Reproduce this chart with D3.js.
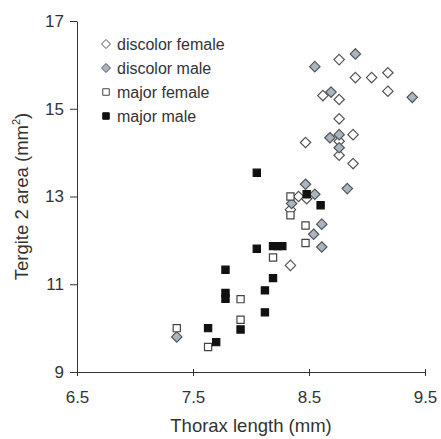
<!DOCTYPE html>
<html>
<head>
<meta charset="UTF-8">
<script src="https://cdn.jsdelivr.net/npm/d3@7"></script>
<style>
  body { margin: 0; background: #fff; }
  text { font-family: "Liberation Sans", Arial, sans-serif; fill: #333; }
</style>
</head>
<body>
<script>
// thorax length (mm) / tergite 2 area (mm2)
var discolorFemaleX = [8.76, 8.90, 9.04, 9.18, 9.18, 8.62, 8.76, 8.76, 8.47, 8.88, 8.76, 8.76, 8.88, 8.41, 8.48, 8.34, 8.34];
var discolorFemaleY = [16.12, 15.71, 15.71, 15.82, 15.40, 15.30, 15.21, 14.77, 14.23, 14.41, 14.26, 13.94, 13.75, 13.00, 12.95, 12.70, 11.43];

var discolorMaleX = [8.90, 8.55, 8.69, 9.39, 8.68, 8.76, 8.76, 8.47, 8.55, 8.83, 8.35, 8.61, 8.54, 8.61, 7.36];
var discolorMaleY = [16.25, 15.96, 15.38, 15.26, 14.34, 14.41, 14.11, 13.28, 13.05, 13.18, 12.84, 12.37, 12.14, 11.85, 9.80];

var majorFemaleX = [8.34, 8.34, 8.47, 8.47, 8.19, 7.91, 7.91, 7.36, 7.63];
var majorFemaleY = [13.00, 12.57, 12.34, 11.94, 11.61, 10.66, 10.19, 10.00, 9.57];

var majorMaleX = [8.05, 8.48, 8.60, 8.05, 8.19, 8.23, 8.27, 7.78, 8.19, 7.78, 7.78, 8.12, 8.12, 7.91, 7.63, 7.70];
var majorMaleY = [13.54, 13.05, 12.80, 11.81, 11.87, 11.87, 11.87, 11.33, 11.14, 10.80, 10.67, 10.86, 10.36, 9.97, 10.00, 9.68];

var xTicks = [6.5, 7.5, 8.5, 9.5];
var yTicks = [9, 11, 13, 15, 17];
var seriesNames = ["discolor female", "discolor male", "major female", "major male"];

var width = 441, height = 439;
var margin = {left: 77, right: 16, top: 21, bottom: 67};

var svg = d3.select("body").append("svg")
  .attr("width", width)
  .attr("height", height);

var x = d3.scaleLinear().domain([6.5, 9.5]).range([margin.left, width - margin.right]);
var y = d3.scaleLinear().domain([9, 17]).range([height - margin.bottom, margin.top]);

// axes
var xAxis = svg.append("g")
  .attr("transform", "translate(0," + y(9) + ")")
  .call(d3.axisBottom(x).tickValues(xTicks).tickFormat(d3.format(".1f")).tickSize(4).tickSizeOuter(0).tickPadding(15));
xAxis.selectAll("line").attr("y1", -3);

var yAxis = svg.append("g")
  .attr("transform", "translate(" + x(6.5) + ",0)")
  .call(d3.axisLeft(y).tickValues(yTicks).tickSize(7).tickSizeOuter(0).tickPadding(6));

svg.selectAll(".domain, .tick line").attr("stroke", "#333");
svg.selectAll(".tick text").attr("font-size", 17).style("fill", "#333");

// axis titles
svg.append("text")
  .attr("x", (x(6.5) + x(9.5)) / 2)
  .attr("y", 432)
  .attr("text-anchor", "middle")
  .attr("font-size", 18.5)
  .text("Thorax length (mm)");

var yt = svg.append("text")
  .attr("transform", "translate(28," + ((y(9) + y(17)) / 2) + ") rotate(-90)")
  .attr("text-anchor", "middle")
  .attr("font-size", 18.5);
yt.append("tspan").text("Tergite 2 area (mm");
yt.append("tspan").attr("font-size", 11).attr("dy", -8).text("2");
yt.append("tspan").attr("dy", 8).text(")");

function diamond(r) {
  return "M0," + (-r) + "L" + r + ",0L0," + r + "L" + (-r) + ",0Z";
}
function square(s) {
  return "M" + (-s / 2) + "," + (-s / 2) + "h" + s + "v" + s + "h" + (-s) + "Z";
}

var styles = [
  {shape: diamond(5.2), fill: "#fff", stroke: "#555"},
  {shape: diamond(5.2), fill: "#aab4c3", stroke: "#555"},
  {shape: square(7.2), fill: "#fff", stroke: "#444"},
  {shape: square(7.2), fill: "#111", stroke: "#111"}
];

var series = [
  d3.zip(discolorFemaleX, discolorFemaleY),
  d3.zip(discolorMaleX, discolorMaleY),
  d3.zip(majorFemaleX, majorFemaleY),
  d3.zip(majorMaleX, majorMaleY)
];

series.forEach(function (pts, i) {
  svg.append("g").selectAll("path")
    .data(pts)
    .enter()
    .append("path")
    .attr("d", styles[i].shape)
    .attr("transform", function (d) { return "translate(" + x(d[0]) + "," + y(d[1]) + ")"; })
    .attr("fill", styles[i].fill)
    .attr("stroke", styles[i].stroke)
    .attr("stroke-width", 1.2);
});

// legend
var legend = svg.append("g").selectAll("g")
  .data(seriesNames)
  .enter()
  .append("g")
  .attr("transform", function (d, i) { return "translate(106," + (44 + i * 24) + ")"; });

legend.append("path")
  .attr("d", function (d, i) { return i < 2 ? diamond(4.5) : square(6.5); })
  .attr("fill", function (d, i) { return styles[i].fill; })
  .attr("stroke", function (d, i) { return styles[i].stroke; });

legend.append("text")
  .attr("x", 11)
  .attr("y", 5.5)
  .attr("font-size", 16)
  .text(function (d) { return d; });
</script>
</body>
</html>
